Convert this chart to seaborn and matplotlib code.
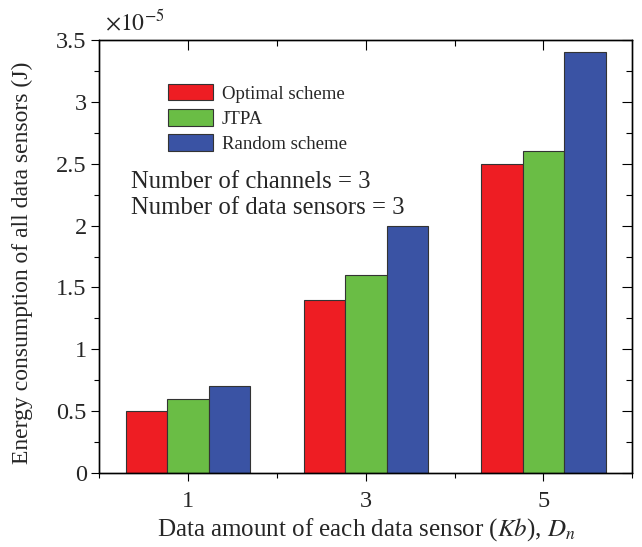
import matplotlib
matplotlib.use("Agg")
import matplotlib.pyplot as plt
import seaborn as sns
import pandas as pd
from matplotlib.ticker import FuncFormatter

# data (energy in units of 1e-5 J)
data_amount = [1, 3, 5]
schemes = ["Optimal scheme", "JTPA", "Random scheme"]
optimal = [0.5, 1.4, 2.5]
jtpa = [0.6, 1.6, 2.6]
random_scheme = [0.7, 2.0, 3.4]
colors = ["#EE1D23", "#6ABD45", "#3A53A4"]

df = pd.DataFrame({
    "amount": data_amount * 3,
    "scheme": [schemes[0]] * 3 + [schemes[1]] * 3 + [schemes[2]] * 3,
    "energy": optimal + jtpa + random_scheme,
})

sns.set_style("white")
plt.rcParams["font.family"] = ["Liberation Serif", "DejaVu Serif"]
plt.rcParams["mathtext.fontset"] = "stix"

fig = plt.figure(figsize=(6.42, 5.47), dpi=100)
ax = fig.add_axes([99.3 / 642, 74 / 547, 533 / 642, 433 / 547])

sns.barplot(data=df, x="amount", y="energy", hue="scheme", hue_order=schemes,
            palette=colors, native_scale=True, width=0.7, saturation=1,
            edgecolor="#333333", linewidth=0.8, errorbar=None, ax=ax)

yt_major = [0, 0.5, 1, 1.5, 2, 2.5, 3, 3.5]
yt_minor = [0.25, 0.75, 1.25, 1.75, 2.25, 2.75, 3.25]

# inward ticks on top and right (twins made first, main axis set afterwards)
top = ax.twiny()
right = ax.twinx()

ax.set_xlim(0, 6)
ax.set_ylim(0, 3.5)
ax.set_xticks([1, 3, 5])
ax.set_xticks([0, 2, 4, 6], minor=True)
ax.set_yticks(yt_major)
ax.set_yticks(yt_minor, minor=True)
ax.yaxis.set_major_formatter(FuncFormatter(lambda v, p: "%g" % v))
ax.tick_params(which="major", direction="out", length=6, width=0.8, labelsize=17.5, color="k")
ax.tick_params(which="minor", direction="out", length=3.5, width=0.8, color="k")
ax.tick_params(axis="x", pad=7)
ax.tick_params(axis="y", pad=3)

top.set_xlim(0, 6)
top.set_xticks([1, 3, 5])
top.set_xticks([2, 4], minor=True)
top.tick_params(axis="x", which="both", top=True, bottom=False, labeltop=False,
                labelbottom=False, direction="in", width=0.8, color="k")
top.tick_params(axis="x", which="major", length=7)
top.tick_params(axis="x", which="minor", length=4)

right.set_ylim(0, 3.5)
right.set_yticks(yt_major)
right.set_yticks(yt_minor, minor=True)
right.tick_params(axis="y", which="both", right=True, left=False, labelright=False,
                  labelleft=False, direction="in", width=0.8, color="k")
right.tick_params(axis="y", which="major", length=7)
right.tick_params(axis="y", which="minor", length=4)

for a in (ax, top, right):
    for s in a.spines.values():
        s.set_linewidth(0.9)
        s.set_color("k")

ax.set_xlabel(r"Data amount of each data sensor ($Kb$), $D_n$", fontsize=18, labelpad=3)
ax.set_ylabel("Energy consumption of all data sensors (J)", fontsize=17)
ax.yaxis.set_label_coords(-0.124, 0.485)

ax.text(0.01, 1.012, r"$\times10^{-5}$", transform=ax.transAxes, fontsize=17,
        ha="left", va="bottom")

ax.text(0.06, 0.642, "Number of channels = 3\nNumber of data sensors = 3",
        transform=ax.transAxes, fontsize=17.8, ha="left", va="center", linespacing=1.22)

ax.legend(loc="upper left", bbox_to_anchor=(0.129, 0.898), frameon=False,
          fontsize=13.6, handlelength=2.38, handleheight=0.95, labelspacing=0.34,
          handletextpad=0.45, borderpad=0, borderaxespad=0)

fig.savefig("out.png", dpi=100)
